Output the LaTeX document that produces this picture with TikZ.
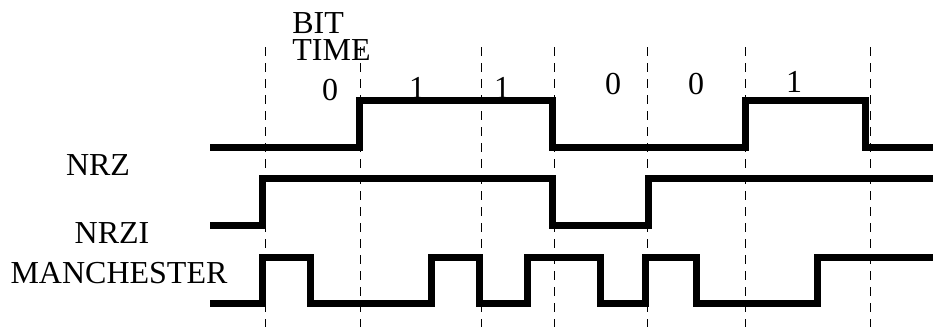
\documentclass[tikz,border=0pt]{standalone}
\usepackage{fontspec}
\setmainfont{Liberation Serif}
\usetikzlibrary{positioning}

\begin{document}
\begin{tikzpicture}[x=0.5pt, y=-0.5pt]

% Define styles
\tikzstyle{wave} = [line width=3.5pt, line join=miter, line cap=butt]
\tikzstyle{bitline} = [line width=0.5pt, dash pattern=on 4.5pt off 3.5pt]
\tikzstyle{bitlabel} = [inner sep=0pt, font=\fontsize{16}{13.5}\selectfont]
\tikzstyle{siglabel} = [inner sep=0pt, font=\fontsize{16}{16}\selectfont]

\useasboundingbox (0,0) rectangle (933,327);

% Bit boundaries
\draw [bitline] (265,47) -- (265,327);
\draw [bitline] (360,47) -- (360,327);
\draw [bitline] (481,47) -- (481,327);
\draw [bitline] (554,47) -- (554,327);
\draw [bitline] (647,47) -- (647,327);
\draw [bitline] (745,47) -- (745,327);
\draw [bitline] (870,47) -- (870,327);

% Header
\node [bitlabel, align=left, anchor=north west] (bittime) at (292,12) {BIT\\TIME};

% Data bits
\node [bitlabel] (b1) at (330,90) {0};
\node [bitlabel] (b2) at (417,88) {1};
\node [bitlabel] (b3) at (502,88) {1};
\node [bitlabel] (b4) at (613,84) {0};
\node [bitlabel] (b5) at (696,84) {0};
\node [bitlabel] (b6) at (794,82) {1};

% Signal names
\node [siglabel] (nrz) at (98,165) {NRZ};
\node [siglabel] (nrzi) at (112,233) {NRZI};
\node [siglabel] (manchester) at (119,273) {MANCHESTER};

% NRZ
\draw [wave] (210,147) -| (359,100) -| (552,147) -| (745,100) -| (865,147) -- (933,147);

% NRZI
\draw [wave] (210,225) -| (262,178) -| (552,225) -| (648,178) -- (933,178);

% Manchester
\draw [wave] (210,303) -| (262,257) -| (310,303) -| (431,257) -| (479,303)
  -| (527,257) -| (600,303) -| (645,257) -| (696,303) -| (817,257) -- (933,257);

\end{tikzpicture}
\end{document}
